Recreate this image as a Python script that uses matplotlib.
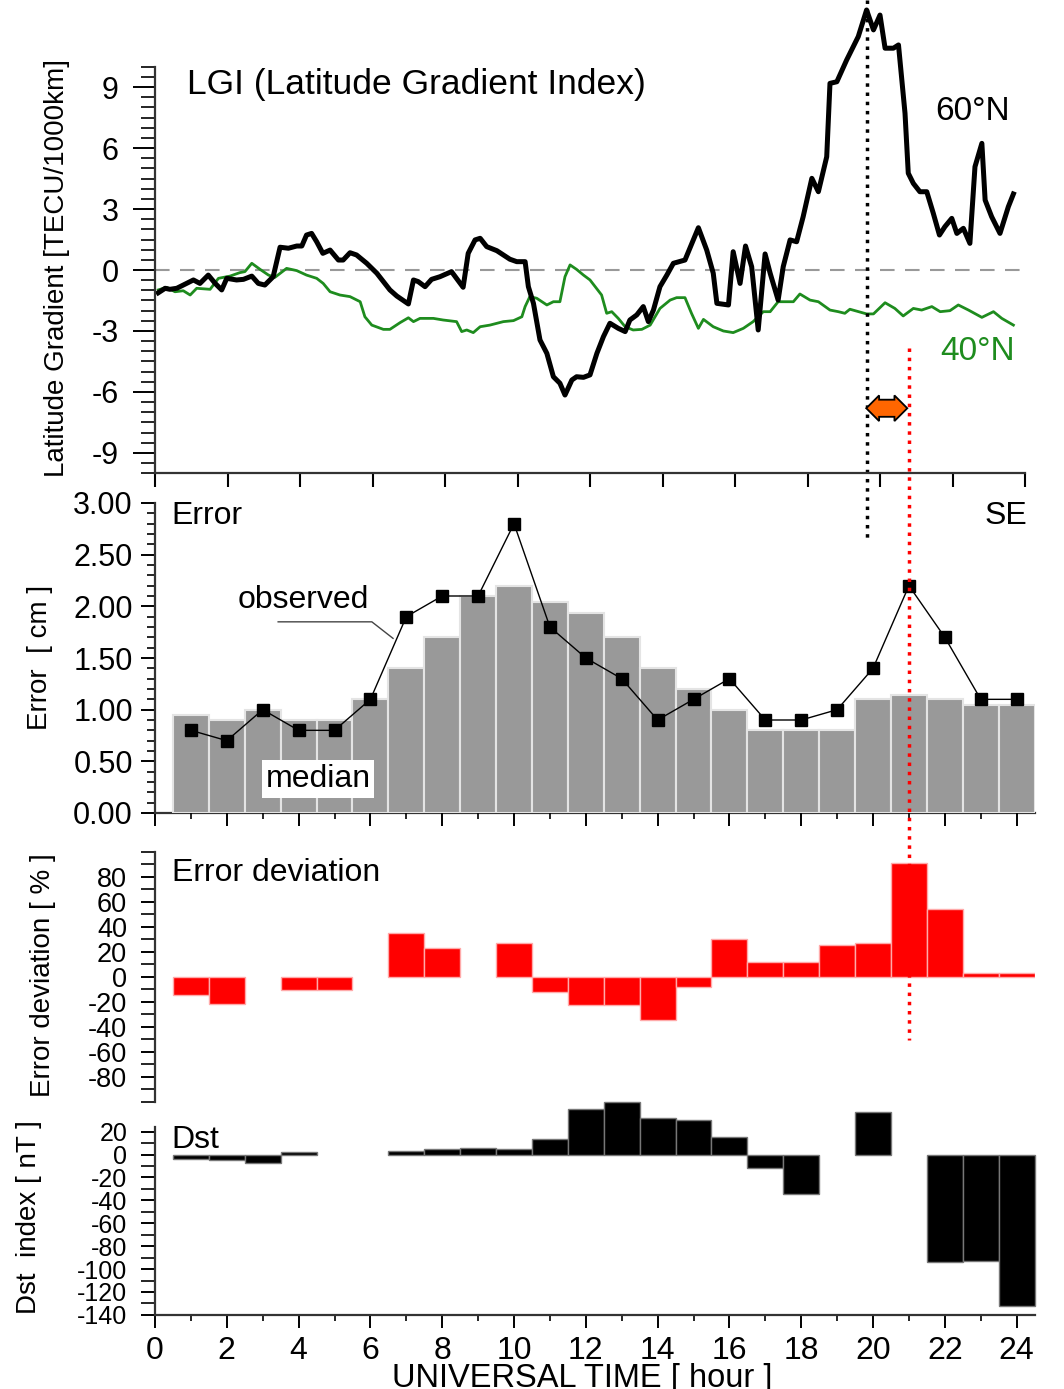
import matplotlib
matplotlib.use('Agg')
import matplotlib.pyplot as plt
from matplotlib.ticker import MultipleLocator, FormatStrFormatter

plt.rcParams['font.family'] = ['Liberation Sans', 'DejaVu Sans']
plt.rcParams['axes.unicode_minus'] = False

# LGI 60N (hour, TECU/1000km)
lgi60_t = [0.09, 0.28, 0.41, 0.60, 0.78, 1.06, 1.24, 1.47, 1.66, 1.84,
           1.98, 2.25, 2.44, 2.67, 2.85, 3.03, 3.26, 3.45, 3.68, 3.91,
           4.05, 4.18, 4.32, 4.46, 4.63, 4.83, 5.06, 5.19, 5.38, 5.56,
           5.84, 6.12, 6.48, 6.67, 6.99, 7.13, 7.26, 7.45, 7.63, 7.86,
           8.18, 8.50, 8.64, 8.83, 8.97, 9.15, 9.43, 9.79, 9.98, 10.21,
           10.30, 10.44, 10.62, 10.81, 10.99, 11.17, 11.31, 11.50, 11.63, 11.82,
           12.00, 12.19, 12.37, 12.55, 12.78, 12.97, 13.10, 13.29, 13.47, 13.61,
           13.75, 13.93, 14.12, 14.30, 14.62, 14.99, 15.22, 15.40, 15.50, 15.82,
           15.95, 16.14, 16.29, 16.46, 16.64, 16.83, 16.97, 17.19, 17.33, 17.52,
           17.70, 17.88, 18.12, 18.30, 18.53, 18.62, 18.81, 19.08, 19.40, 19.63,
           19.82, 20.00, 20.14, 20.37, 20.51, 20.69, 20.78, 20.92, 21.10, 21.29,
           21.47, 21.64, 21.79, 21.98, 22.12, 22.30, 22.48, 22.62, 22.81, 22.90,
           23.08, 23.31, 23.54, 23.68]
lgi60_v = [-1.12, -0.90, -0.95, -0.90, -0.74, -0.49, -0.66, -0.25, -0.66, -0.98,
           -0.41, -0.49, -0.46, -0.30, -0.66, -0.74, -0.33, 1.12, 1.07, 1.18,
           1.18, 1.72, 1.80, 1.39, 0.82, 0.98, 0.49, 0.49, 0.85, 0.74,
           0.33, -0.16, -0.98, -1.28, -1.67, -0.49, -0.57, -0.82, -0.46, -0.33,
           -0.08, -0.85, 0.82, 1.48, 1.56, 1.15, 0.95, 0.53, 0.41, 0.41,
           -0.82, -1.64, -3.44, -4.10, -5.25, -5.57, -6.15, -5.41, -5.25, -5.28,
           -5.16, -4.10, -3.28, -2.62, -2.87, -3.03, -2.46, -2.21, -1.80, -2.54,
           -1.97, -0.82, -0.25, 0.33, 0.49, 2.08, 0.98, -0.16, -1.64, -1.72,
           0.90, -0.66, 1.18, 0.16, -2.95, 0.79, -0.16, -1.48, 0.16, 1.48,
           1.39, 2.62, 4.51, 3.85, 5.57, 9.18, 9.26, 10.33, 11.48, 12.79,
           11.81, 12.54, 10.91, 10.91, 11.07, 7.71, 4.76, 4.26, 3.85, 3.85,
           2.79, 1.72, 2.13, 2.54, 1.80, 2.05, 1.31, 5.08, 6.23, 3.44,
           2.62, 1.80, 3.11, 3.74]

# LGI 40N
lgi40_t = [0.09, 0.32, 0.55, 0.78, 0.97, 1.15, 1.52, 1.75, 2.07, 2.34,
           2.48, 2.67, 2.90, 3.13, 3.31, 3.63, 3.91, 4.18, 4.46, 4.64,
           4.83, 5.10, 5.38, 5.66, 5.79, 5.98, 6.30, 6.48, 6.76, 6.99,
           7.13, 7.31, 7.68, 7.95, 8.32, 8.46, 8.60, 8.78, 8.97, 9.24,
           9.61, 9.89, 10.12, 10.21, 10.34, 10.53, 10.81, 10.99, 11.17, 11.31,
           11.45, 11.63, 11.82, 12.00, 12.32, 12.46, 12.60, 12.78, 12.97, 13.19,
           13.43, 13.66, 13.93, 14.21, 14.39, 14.62, 14.80, 14.99, 15.13, 15.40,
           15.68, 15.95, 16.23, 16.50, 16.78, 16.97, 17.19, 17.61, 17.79, 18.07,
           18.30, 18.62, 18.85, 19.03, 19.17, 19.63, 19.82, 20.14, 20.41, 20.64,
           20.92, 21.15, 21.43, 21.66, 21.93, 22.16, 22.44, 22.81, 23.13, 23.36,
           23.68]
lgi40_v = [-0.98, -0.85, -1.07, -1.02, -1.23, -0.90, -0.95, -0.41, -0.30, -0.13,
           -0.08, 0.33, 0.03, -0.25, -0.36, 0.08, -0.03, -0.25, -0.41, -0.66,
           -1.07, -1.23, -1.31, -1.56, -2.30, -2.71, -2.92, -2.92, -2.59, -2.35,
           -2.54, -2.38, -2.38, -2.46, -2.54, -3.03, -2.95, -3.08, -2.79, -2.71,
           -2.54, -2.49, -2.30, -1.80, -1.31, -1.39, -1.72, -1.56, -1.56, -0.33,
           0.25, 0.03, -0.25, -0.49, -1.23, -2.13, -2.05, -2.38, -2.79, -2.95,
           -2.92, -2.71, -1.89, -1.48, -1.36, -1.36, -2.13, -2.87, -2.43, -2.79,
           -3.00, -3.08, -2.87, -2.54, -2.05, -2.05, -1.56, -1.56, -1.18, -1.48,
           -1.56, -1.97, -2.05, -2.13, -1.93, -2.16, -2.16, -1.61, -1.89, -2.26,
           -1.89, -1.97, -1.80, -2.05, -2.00, -1.72, -1.97, -2.33, -2.05, -2.38,
           -2.71]

hours = list(range(1, 25))
err_median = [0.95, 0.90, 1.00, 0.90, 0.90, 1.10, 1.40, 1.70, 2.10, 2.20, 2.04, 1.94,
              1.70, 1.40, 1.20, 1.00, 0.80, 0.80, 0.80, 1.10, 1.14, 1.10, 1.05, 1.05]
err_observed = [0.80, 0.70, 1.00, 0.80, 0.80, 1.10, 1.90, 2.10, 2.10, 2.80, 1.80, 1.50,
                1.30, 0.90, 1.10, 1.30, 0.90, 0.90, 1.00, 1.40, 2.20, 1.70, 1.10, 1.10]
err_dev = [-15, -22, 0, -11, -11, 0, 35, 23, 0, 27, -12, -23,
           -23, -35, -8, 30, 12, 12, 25, 27, 91, 54, 3, 3]
dst = [-4, -5, -7, 2, 0, 0, 3, 5, 6, 5, 14, 40,
       46, 32, 30, 15, -12, -34, 0, 37, 0, -94, -93, -132]

peak_hour = 19.63   # LGI peak (top panel time)
error_hour = 21     # error deviation peak

W, H = 1064, 1389
fig = plt.figure(figsize=(W / 100, H / 100), dpi=100)


def px_axes(l, t, r, b):
    return fig.add_axes([l / W, 1 - b / H, (r - l) / W, (b - t) / H])


def clean(ax, keep):
    for s in ['left', 'right', 'top', 'bottom']:
        ax.spines[s].set_visible(s in keep)
        ax.spines[s].set_linewidth(1.6)
        ax.spines[s].set_color('#333333')
    ax.patch.set_alpha(0)


green = '#1e8c1e'

# --- LGI panel
ax1 = px_axes(155, 66.7, 1025, 473.3)
ax1.set_xlim(0, 24)
ax1.set_ylim(-10, 10)
clean(ax1, ['left', 'bottom'])
ax1.plot([0, 24.15], [0, 0], color='#999999', lw=1.5, dashes=(7, 5), clip_on=False)
ax1.plot(lgi40_t, lgi40_v, color=green, lw=2.0)
ax1.plot(lgi60_t, lgi60_v, color='black', lw=3.6, clip_on=False)
ax1.set_yticks(range(-9, 10, 3))
ax1.yaxis.set_minor_locator(MultipleLocator(0.5))
ax1.set_xticks(range(0, 25, 2))
ax1.tick_params(axis='y', which='major', length=16, width=1.4, pad=10, labelsize=22)
ax1.tick_params(axis='y', which='minor', length=10, width=1.2)
ax1.tick_params(axis='x', which='major', length=10, width=1.5, labelbottom=False)
ax1.text(0.88, 9.1, 'LGI (Latitude Gradient Index)', fontsize=25.5, va='center')
ax1.text(21.52, 7.8, '60°N', fontsize=24, va='center')
ax1.text(21.66, -4.0, '40°N', fontsize=24, va='center', color=green)
ax1.plot([peak_hour, peak_hour], [13.3, -13.4], color='black', lw=2.5, ls=':', clip_on=False)
# double arrow between the LGI peak and the error peak
ax1.text((peak_hour + 20.77) / 2, -6.8, 'MMM', fontsize=6.5, color='none',
         ha='center', va='center',
         bbox=dict(boxstyle='darrow,pad=0.45', fc='#ff6600', ec='black', lw=1.3))

# --- Error panel
ax2 = px_axes(155, 503, 1034.6, 813)
ax2.set_xlim(0, 24.5)
ax2.set_ylim(0, 3)
clean(ax2, ['left', 'bottom'])
ax2.spines['bottom'].set_zorder(0.5)
ax2.bar(hours, err_median, width=1, color='#999999', edgecolor='#e4e4e4', lw=1.5, zorder=2)
ax2.plot(hours, err_observed, color='black', lw=1, marker='s', ms=9, zorder=3)
ax2.set_yticks([0, 0.5, 1.0, 1.5, 2.0, 2.5, 3.0])
ax2.yaxis.set_major_formatter(FormatStrFormatter('%.2f'))
ax2.yaxis.set_minor_locator(MultipleLocator(0.1))
ax2.set_xticks(range(0, 25, 2))
ax2.xaxis.set_minor_locator(MultipleLocator(1))
ax2.tick_params(axis='y', which='major', length=10, width=1.4, pad=6, labelsize=22)
ax2.tick_params(axis='y', which='minor', length=6, width=1.2)
ax2.tick_params(axis='x', which='major', length=9, width=1.4, labelbottom=False)
ax2.tick_params(axis='x', which='minor', length=4, width=1.2)
ax2.text(0.47, 2.87, 'Error', fontsize=23, va='center')
ax2.text(24.29, 2.87, 'SE', fontsize=23, va='center', ha='right')
ax2.text(2.31, 2.06, 'observed', fontsize=23, va='center')
ax2.plot([3.43, 6.04, 6.63], [1.85, 1.85, 1.69], color='#444444', lw=1)
ax2.text(4.54, 0.33, 'median', fontsize=23, va='center', ha='center', zorder=4,
         bbox=dict(boxstyle='square,pad=0.12', fc='white', ec='none'))

# --- Error deviation panel
ax3 = px_axes(155, 851.7, 1034.6, 1101.7)
ax3.set_xlim(0, 24.5)
ax3.set_ylim(-100, 100)
clean(ax3, ['left'])
dev_h = [h for h, d in zip(hours, err_dev) if d != 0]
dev_v = [d for d in err_dev if d != 0]
ax3.bar(dev_h, dev_v, width=1, color='#ff0000', edgecolor='#ffaaaa', lw=1)
ax3.set_yticks(range(-80, 81, 20))
ax3.yaxis.set_minor_locator(MultipleLocator(10))
ax3.set_xticks([])
ax3.tick_params(axis='y', which='major', length=10, width=1.4, pad=10, labelsize=19.5)
ax3.tick_params(axis='y', which='minor', length=10, width=1.2)
ax3.text(0.47, 83, 'Error deviation', fontsize=23, va='center')
ax3.plot([error_hour, error_hour], [503, -50.6], color='red', lw=2.5, ls=':', clip_on=False)

# --- Dst panel
ax4 = px_axes(155, 1127.1, 1034.6, 1314.9)
ax4.set_xlim(0, 24.5)
ax4.set_ylim(-140, 24)
clean(ax4, ['left', 'bottom'])
dst_h = [h for h, d in zip(hours, dst) if d != 0]
dst_v = [d for d in dst if d != 0]
ax4.bar(dst_h, dst_v, width=1, color='black', edgecolor='#777777', lw=1, clip_on=False)
ax4.set_yticks(range(-140, 21, 20))
ax4.yaxis.set_minor_locator(MultipleLocator(10))
ax4.set_xticks(range(0, 25, 2))
ax4.xaxis.set_minor_locator(MultipleLocator(1))
ax4.tick_params(axis='y', which='major', length=10, width=1.4, pad=10, labelsize=18)
ax4.tick_params(axis='y', which='minor', length=10, width=1.2)
ax4.tick_params(axis='x', which='major', length=9, width=1.4, pad=6, labelsize=23)
ax4.tick_params(axis='x', which='minor', length=4, width=1.2)
ax4.text(0.47, 12.7, 'Dst', fontsize=23, va='center')

# --- axis titles
fig.text(57 / W, 1 - 268 / H, 'Latitude Gradient [TECU/1000km]', rotation=90,
         fontsize=20, ha='center', va='center')
fig.text(40 / W, 1 - 657 / H, 'Error  [ cm ]', rotation=90, fontsize=20, ha='center', va='center')
fig.text(43 / W, 1 - 975 / H, 'Error deviation [ % ]', rotation=90, fontsize=20,
         ha='center', va='center')
fig.text(29 / W, 1 - 1217 / H, 'Dst  index [ nT ]', rotation=90, fontsize=20,
         ha='center', va='center')
fig.text(582 / W, 1 - 1363 / H, 'UNIVERSAL TIME [ hour ]', fontsize=23.5, ha='center', va='top')

fig.savefig('out.png', dpi=100)
